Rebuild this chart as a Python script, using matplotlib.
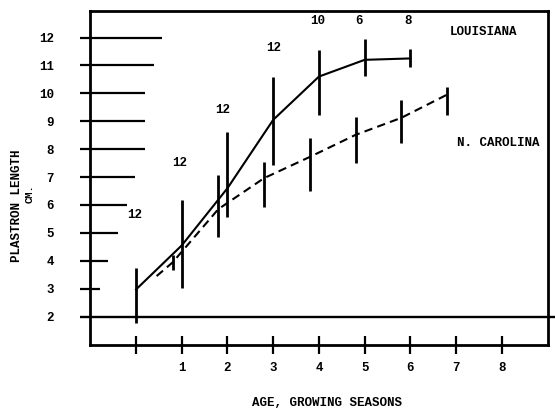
import numpy as np
import matplotlib
matplotlib.use('Agg')
import matplotlib.pyplot as plt

# Louisiana (solid line), mean and range at each age
la_age = [0, 1, 2, 3, 4, 5, 6]
la_mean = [2.97, 4.55, 6.6, 9.05, 10.6, 11.2, 11.25]
la_low = [1.78, 3.04, 5.56, 7.43, 9.23, 10.63, 10.96]
la_high = [3.73, 6.17, 8.62, 10.6, 11.57, 11.93, 11.6]
la_n = ['12', '12', '12', '12', '10', '6', '8']

# North Carolina (dashed line); first point has no range bar
nc_age = [0.45, 0.8, 1.8, 2.8, 3.8, 4.8, 5.8, 6.8]
nc_mean = [3.45, 3.94, 5.85, 6.96, 7.72, 8.51, 9.12, 9.95]
nc_low = [np.nan, 3.68, 4.84, 5.92, 6.5, 7.5, 8.22, 9.23]
nc_high = [np.nan, 4.2, 7.07, 7.54, 8.4, 9.16, 9.77, 10.24]

# horizontal bars drawn off the length axis (ends in age units)
bar_len = [3, 4, 5, 6, 7, 8, 9, 10, 11, 12]
bar_end = [-0.79, -0.61, -0.39, -0.20, -0.02, 0.20, 0.20, 0.20, 0.39, 0.57]

x_ticks = [0, 1, 2, 3, 4, 5, 6, 7, 8]
x_labels = ['', '1', '2', '3', '4', '5', '6', '7', '8']
y_ticks = [2, 3, 4, 5, 6, 7, 8, 9, 10, 11, 12]

FONT = 'Liberation Mono'
plt.rcParams['font.family'] = [FONT, 'DejaVu Sans Mono']
plt.rcParams['font.weight'] = 'bold'
FS = 9

fig = plt.figure(figsize=(5.55, 4.11), dpi=100)
ax = fig.add_axes([90 / 555, 66 / 411, 458 / 555, 334 / 411])
ax.set_xlim(-1.007, 9.01)
ax.set_ylim(0.98, 12.95)

for s in ax.spines.values():
    s.set_linewidth(2.0)

# length reference bars and the base line at 2 cm
bar_start = -1.23
ax.hlines(bar_len, bar_start, bar_end, colors='black', lw=1.6, clip_on=False)
ax.hlines(2, bar_start, 9.19, colors='black', lw=1.7, clip_on=False)

# Louisiana
ax.plot(la_age, la_mean, color='black', lw=1.5)
ax.vlines(la_age, la_low, la_high, colors='black', lw=2.0)

# North Carolina
ax.plot(nc_age, nc_mean, color='black', lw=1.5, linestyle=(0, (4, 2.5)))
ax.vlines(nc_age[1:], nc_low[1:], nc_high[1:], colors='black', lw=2.0)

# sample sizes
n_pos = [(-0.02, 5.63), (0.96, 7.5), (1.89, 9.41), (3.0, 11.64),
         (3.97, 12.58), (4.87, 12.58), (5.96, 12.58)]
for (px, py), n in zip(n_pos, la_n):
    ax.text(px, py, n, ha='center', va='center', fontsize=FS, fontweight='bold')

ax.text(7.59, 12.18, 'LOUISIANA', ha='center', va='center', fontsize=FS, fontweight='bold')
ax.text(7.92, 8.22, 'N. CAROLINA', ha='center', va='center', fontsize=FS, fontweight='bold')

ax.set_xticks(x_ticks)
ax.set_xticklabels(x_labels, fontsize=FS, fontweight='bold')
ax.tick_params(axis='x', direction='inout', length=13, width=1.6, pad=6)
ax.set_yticks(y_ticks)
ax.set_yticklabels([str(v) for v in y_ticks], fontsize=FS, fontweight='bold')
ax.tick_params(axis='y', length=0, pad=26)

fig.text(17 / 555, 1 - 206 / 411, 'PLASTRON LENGTH', rotation=90, ha='center',
         va='center', fontsize=FS, fontweight='bold')
fig.text(30 / 555, 1 - 194 / 411, 'CM.', rotation=90, ha='center',
         va='center', fontsize=7.5, fontweight='bold')
fig.text(327 / 555, 1 - 403 / 411, 'AGE, GROWING SEASONS', ha='center',
         va='center', fontsize=FS, fontweight='bold')

fig.savefig('out.png', dpi=100)
